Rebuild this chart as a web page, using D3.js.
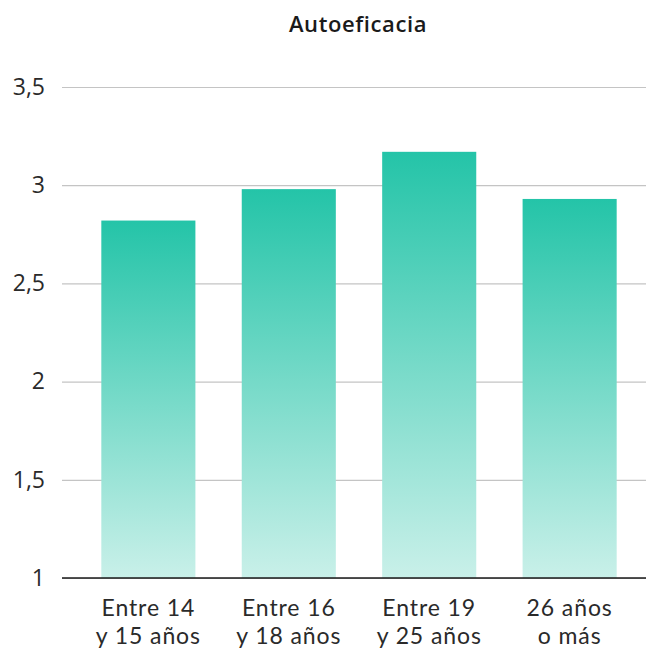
<!DOCTYPE html>
<html>
<head>
<meta charset="utf-8">
<script src="https://cdn.jsdelivr.net/npm/d3@7"></script>
<style>
  body { margin: 0; background: #fff; overflow: hidden; }
  svg { display: block; font-family: "Open Sans", "Noto Sans", sans-serif; }
</style>
</head>
<body>
<svg id="chart"></svg>
<script>
const categories = [["Entre 14", "y 15 años"], ["Entre 16", "y 18 años"], ["Entre 19", "y 25 años"], ["26 años", "o más"]];
const values = [2.82, 2.98, 3.17, 2.93];
const yTicks = [1, 1.5, 2, 2.5, 3, 3.5];

const width = 646, height = 650;
const svg = d3.select("#chart").attr("width", width).attr("height", height);

// plot area
const plotLeft = 62, plotRight = 656, plotTop = 87, plotBottom = 578;

const x = d3.scaleBand().domain(d3.range(values.length)).range([plotLeft, plotRight])
    .paddingInner(0.33).paddingOuter(0.28);
const y = d3.scaleLinear().domain([1, 3.5]).range([plotBottom, plotTop]);

// gradient per bar
const grad = svg.append("defs").append("linearGradient")
    .attr("id", "barGrad")
    .attr("x1", 0).attr("y1", 0).attr("x2", 0).attr("y2", 1);
grad.append("stop").attr("offset", "0%").attr("stop-color", "#24c4a8");
grad.append("stop").attr("offset", "100%").attr("stop-color", "#c9f0e9");

// title
svg.append("text")
    .attr("x", 358).attr("y", 32)
    .attr("text-anchor", "middle")
    .attr("font-size", 22).attr("font-weight", 600)
    .attr("letter-spacing", 0.6)
    .attr("fill", "#1a1a1a")
    .text("Autoeficacia");

// gridlines + y labels
const yAxis = svg.append("g")
    .attr("transform", `translate(${plotLeft},0)`)
    .call(d3.axisLeft(y).tickValues(yTicks).tickSize(-(plotRight - plotLeft)).tickPadding(17)
        .tickFormat(d => String(d).replace(".", ",")));
yAxis.select(".domain").remove();
yAxis.selectAll(".tick line").attr("stroke", "#c4c4c4").attr("stroke-width", 1.2);
yAxis.selectAll(".tick text").attr("font-size", 23).attr("fill", "#2a2a2a")
    .attr("font-family", "'Open Sans', 'Noto Sans', sans-serif");

// bars
svg.selectAll("rect.bar")
    .data(values)
    .enter()
    .append("rect")
    .attr("class", "bar")
    .attr("x", (d, i) => x(i))
    .attr("y", d => y(d))
    .attr("width", x.bandwidth())
    .attr("height", d => y(1) - y(d))
    .attr("fill", "url(#barGrad)");

// baseline
svg.append("line")
    .attr("x1", plotLeft).attr("x2", plotRight)
    .attr("y1", y(1)).attr("y2", y(1))
    .attr("stroke", "#1a1a1a").attr("stroke-width", 1.5);

// category labels
const labels = svg.selectAll("text.cat")
    .data(categories)
    .enter()
    .append("text")
    .attr("class", "cat")
    .attr("text-anchor", "middle")
    .attr("font-family", "Lato, 'Open Sans', sans-serif")
    .attr("font-size", 23)
    .attr("letter-spacing", 0.9)
    .attr("fill", "#2a2a2a")
    .attr("transform", (d, i) => `translate(${x(i) + x.bandwidth() / 2},616)`);
labels.selectAll("tspan")
    .data(d => d)
    .enter()
    .append("tspan")
    .attr("x", 0)
    .attr("dy", (d, i) => i === 0 ? 0 : 28)
    .text(d => d);
</script>
</body>
</html>
